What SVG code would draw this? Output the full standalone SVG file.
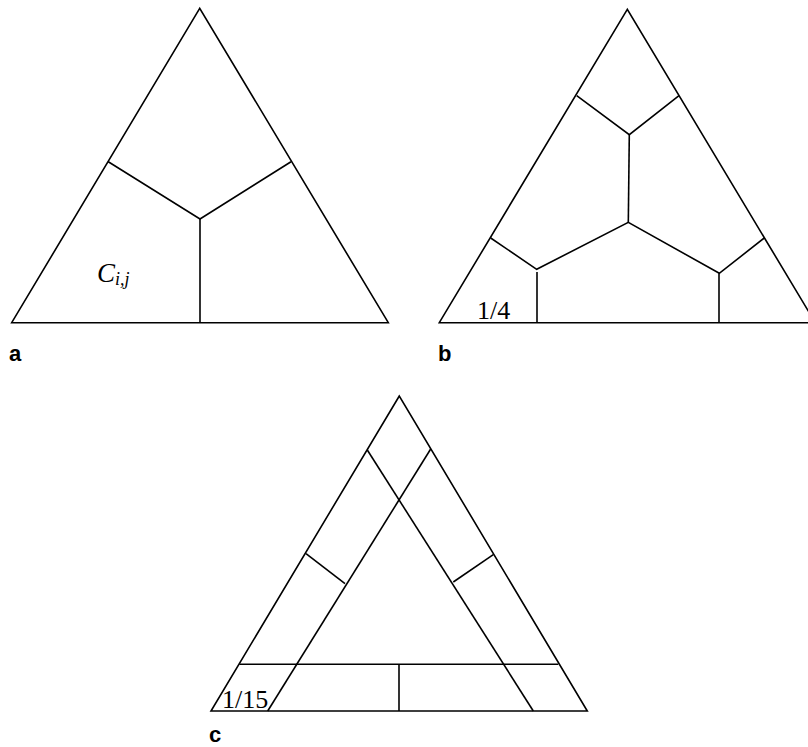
<svg xmlns="http://www.w3.org/2000/svg" width="808" height="747" viewBox="0 0 808 747">
<style>
.ln{stroke:#000;stroke-width:1.6;fill:none;stroke-linejoin:miter}
.num{font-family:"Liberation Serif",serif;font-size:26px;fill:#000}
.lab{font-family:"Liberation Sans",Arial,sans-serif;font-size:22px;font-weight:bold;fill:#000}
</style>
<rect width="808" height="747" fill="#fff"/>
<g id="panel-a">
<polygon class="ln" points="199.7,8.3 11.7,322.7 388.3,322.7"/>
<polyline class="ln" points="108.3,161.7 200,219 291,161.7"/>
<line class="ln" x1="200" y1="219" x2="200" y2="322.7"/>
<text x="97" y="281.5" font-family="Liberation Serif,serif" font-style="italic" font-size="27" fill="#000">C<tspan font-size="18" dy="3">i,j</tspan></text>
<text class="lab" x="9" y="361">a</text>
</g>
<g id="panel-b">
<polygon class="ln" points="627.3,9.3 439.3,322.7 815.3,322.7"/>
<polyline class="ln" points="576.7,95.7 629.3,134.7 679,95.7"/>
<line class="ln" x1="629.3" y1="134.7" x2="628.3" y2="222.3"/>
<polyline class="ln" points="490.7,238 536.7,269.3 628.3,222.3 719.3,273.3 764.3,238"/>
<line class="ln" x1="537" y1="272" x2="537" y2="322.7"/>
<line class="ln" x1="719" y1="273.3" x2="719" y2="322.7"/>
<text class="num" x="477" y="318.5">1/4</text>
<text class="lab" x="438" y="361">b</text>
</g>
<g id="panel-c">
<polygon class="ln" points="399.3,396 211,711 587.3,711"/>
<line class="ln" x1="367.3" y1="450" x2="533.3" y2="711"/>
<line class="ln" x1="430.7" y1="449" x2="267.7" y2="711"/>
<line class="ln" x1="239.3" y1="664.3" x2="558.3" y2="664.3"/>
<line class="ln" x1="399" y1="664.3" x2="399" y2="711"/>
<line class="ln" x1="306" y1="553.7" x2="345" y2="583.7"/>
<line class="ln" x1="493.3" y1="554.7" x2="453.3" y2="582"/>
<text class="num" x="222" y="707.5">1/15</text>
<text class="lab" x="209" y="742">c</text>
</g>
</svg>
